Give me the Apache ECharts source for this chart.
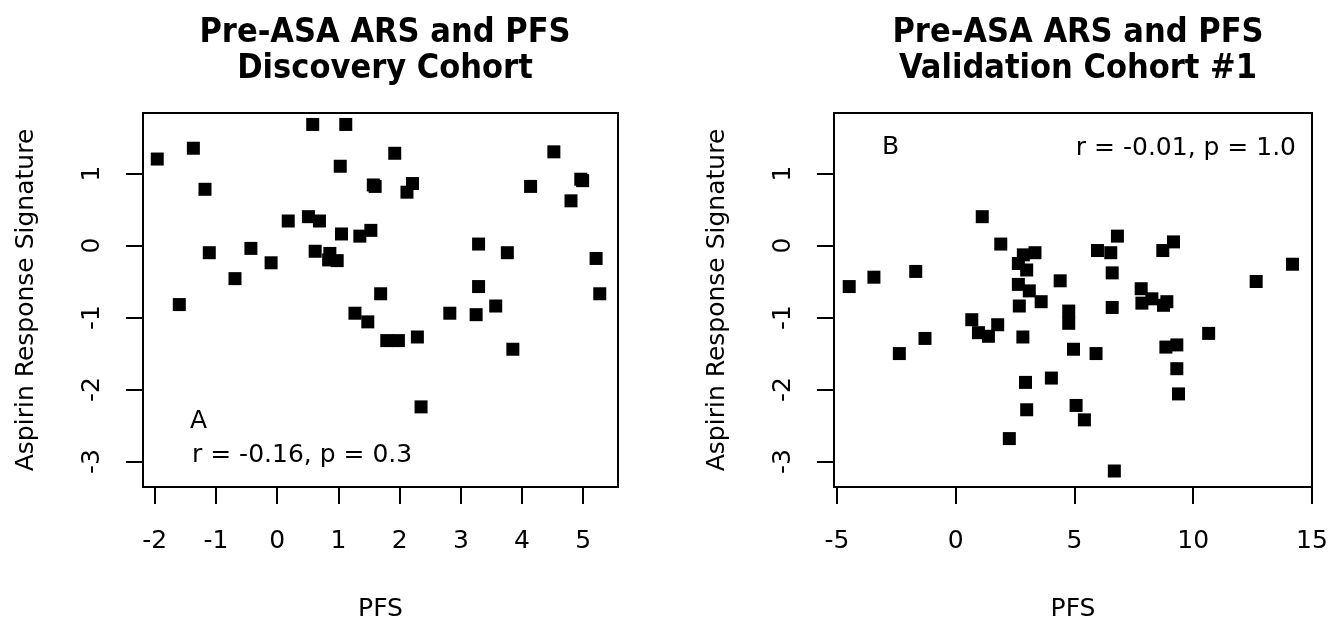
<!DOCTYPE html>
<html>
<head>
<meta charset="UTF-8">
<title>Pre-ASA ARS and PFS</title>
<script src="https://cdn.jsdelivr.net/npm/echarts@6/dist/echarts.min.js"></script>
</head>
<body style="margin:0;background:#fff;">
	<div id="container" style="width:1342px;height:624px;"></div>
	<script type="text/javascript">
	// Discovery cohort: [PFS, ARS]
	var discovery = [
		[-1.96, 1.20], [-1.37, 1.35], [-1.18, 0.78], [0.58, 1.68], [1.12, 1.68],
		[1.92, 1.28], [1.03, 1.10], [1.57, 0.84], [1.60, 0.82], [2.21, 0.86],
		[2.12, 0.74], [4.52, 1.30], [4.96, 0.92], [4.99, 0.90], [4.14, 0.82],
		[4.80, 0.62], [0.18, 0.34], [0.51, 0.40], [0.69, 0.34], [1.05, 0.16],
		[1.35, 0.13], [1.53, 0.21], [-1.11, -0.10], [-0.43, -0.04], [-0.10, -0.24],
		[-0.69, -0.46], [0.62, -0.08], [0.86, -0.11], [0.84, -0.20], [0.98, -0.21],
		[3.29, 0.02], [3.76, -0.10], [5.21, -0.18], [1.69, -0.67], [3.29, -0.57],
		[5.27, -0.67], [1.27, -0.94], [1.48, -1.06], [1.79, -1.32], [1.98, -1.32],
		[2.29, -1.27], [2.82, -0.94], [3.25, -0.96], [3.57, -0.84], [3.85, -1.44],
		[2.35, -2.24], [-1.60, -0.82]
	];
	// Validation cohort #1: [PFS, ARS]
	var validation = [
		[1.12, 0.40], [1.90, 0.02], [-1.68, -0.36], [-3.44, -0.44], [-4.48, -0.57],
		[0.68, -1.03], [0.96, -1.21], [1.38, -1.26], [1.77, -1.10], [-1.29, -1.29],
		[-2.37, -1.50], [6.68, -3.13], [2.26, -2.68], [2.99, -2.28], [5.07, -2.22],
		[5.42, -2.42], [2.94, -1.90], [4.03, -1.84], [4.96, -1.44], [5.91, -1.50],
		[2.83, -1.27], [4.76, -0.91], [4.76, -1.08], [2.68, -0.84], [3.10, -0.63],
		[3.60, -0.78], [2.64, -0.54], [4.40, -0.49], [6.59, -0.86], [7.81, -0.60],
		[7.84, -0.80], [8.26, -0.74], [8.75, -0.83], [8.89, -0.78], [10.65, -1.22],
		[8.85, -1.41], [9.31, -1.38], [9.31, -1.71], [9.38, -2.06], [12.65, -0.50],
		[6.81, 0.13], [9.17, 0.05], [8.72, -0.07], [5.97, -0.07], [6.53, -0.10],
		[3.34, -0.10], [2.85, -0.13], [2.64, -0.25], [2.99, -0.34], [6.59, -0.38],
		[14.18, -0.26]
	];

	var xTicksA = [-2, -1, 0, 1, 2, 3, 4, 5];
	var xTicksB = [-5, 0, 5, 10, 15];
	var yTicks = [-3, -2, -1, 0, 1];

	var font = 'DejaVu Sans';
	var titleFont = "'Liberation Sans Narrow', 'DejaVu Sans Condensed', 'Liberation Sans', sans-serif";

	function xAxisOf(idx, min, max, ticks) {
		return {
			gridIndex: idx, type: 'value', min: min, max: max,
			name: 'PFS', nameLocation: 'middle', nameGap: 110,
			nameTextStyle: {fontFamily: font, fontSize: 25, color: '#000'},
			splitLine: {show: false},
			axisLine: {show: true, onZero: false, lineStyle: {color: '#000', width: 2}},
			axisTick: {show: true, length: 17, lineStyle: {color: '#000', width: 2}, customValues: ticks},
			axisLabel: {fontFamily: font, fontSize: 25, color: '#000', margin: 42, customValues: ticks}
		};
	}
	function yAxisOf(idx) {
		return {
			gridIndex: idx, type: 'value', min: -3.352, max: 1.839,
			name: 'Aspirin Response Signature', nameLocation: 'middle', nameGap: 104,
			nameTextStyle: {fontFamily: font, fontSize: 25, color: '#000'},
			splitLine: {show: false},
			axisLine: {show: true, onZero: false, lineStyle: {color: '#000', width: 2}},
			axisTick: {show: true, length: 17, lineStyle: {color: '#000', width: 2}, customValues: yTicks},
			axisLabel: {fontFamily: font, fontSize: 25, color: '#000', margin: 38, rotate: 90, customValues: yTicks}
		};
	}

	var dom = document.getElementById("container");
	var myChart = echarts.init(dom);
	var option = {
		backgroundColor: '#fff',
		animation: false,
		title: [
			{text: 'Pre-ASA ARS and PFS\nDiscovery Cohort', left: 380, top: 10, textAlign: 'center',
			 textStyle: {fontFamily: titleFont, fontWeight: 'bold', fontSize: 34, lineHeight: 36, color: '#000'}},
			{text: 'Pre-ASA ARS and PFS\nValidation Cohort #1', left: 1073, top: 10, textAlign: 'center',
			 textStyle: {fontFamily: titleFont, fontWeight: 'bold', fontSize: 34, lineHeight: 36, color: '#000'}}
		],
		grid: [
			{left: 143, top: 113, width: 475, height: 374, outerBoundsMode: 'none', containLabel: false,
			 show: true, borderColor: '#000', borderWidth: 2, backgroundColor: '#fff'},
			{left: 834, top: 113, width: 478, height: 374, outerBoundsMode: 'none', containLabel: false,
			 show: true, borderColor: '#000', borderWidth: 2, backgroundColor: '#fff'}
		],
		xAxis: [
			xAxisOf(0, -2.193, 5.568, xTicksA),
			xAxisOf(1, -5.12, 15, xTicksB)
		],
		yAxis: [yAxisOf(0), yAxisOf(1)],
		series: [
			{type: 'scatter', xAxisIndex: 0, yAxisIndex: 0, data: discovery, symbol: 'rect', symbolSize: 13, itemStyle: {color: '#000', opacity: 1}},
			{type: 'scatter', xAxisIndex: 1, yAxisIndex: 1, data: validation, symbol: 'rect', symbolSize: 13, itemStyle: {color: '#000', opacity: 1}}
		],
		graphic: [
			{type: 'text', left: 190, top: 409, style: {text: 'A', font: '25px ' + font, fill: '#000'}},
			{type: 'text', left: 192, top: 443, style: {text: 'r = -0.16, p = 0.3', font: '25px ' + font, fill: '#000'}},
			{type: 'text', left: 882, top: 135, style: {text: 'B', font: '25px ' + font, fill: '#000'}},
			{type: 'text', right: 46, top: 136, style: {text: 'r = -0.01, p = 1.0', font: '25px ' + font, fill: '#000'}}
		]
	};
	myChart.setOption(option);
	</script>
</body>
</html>
